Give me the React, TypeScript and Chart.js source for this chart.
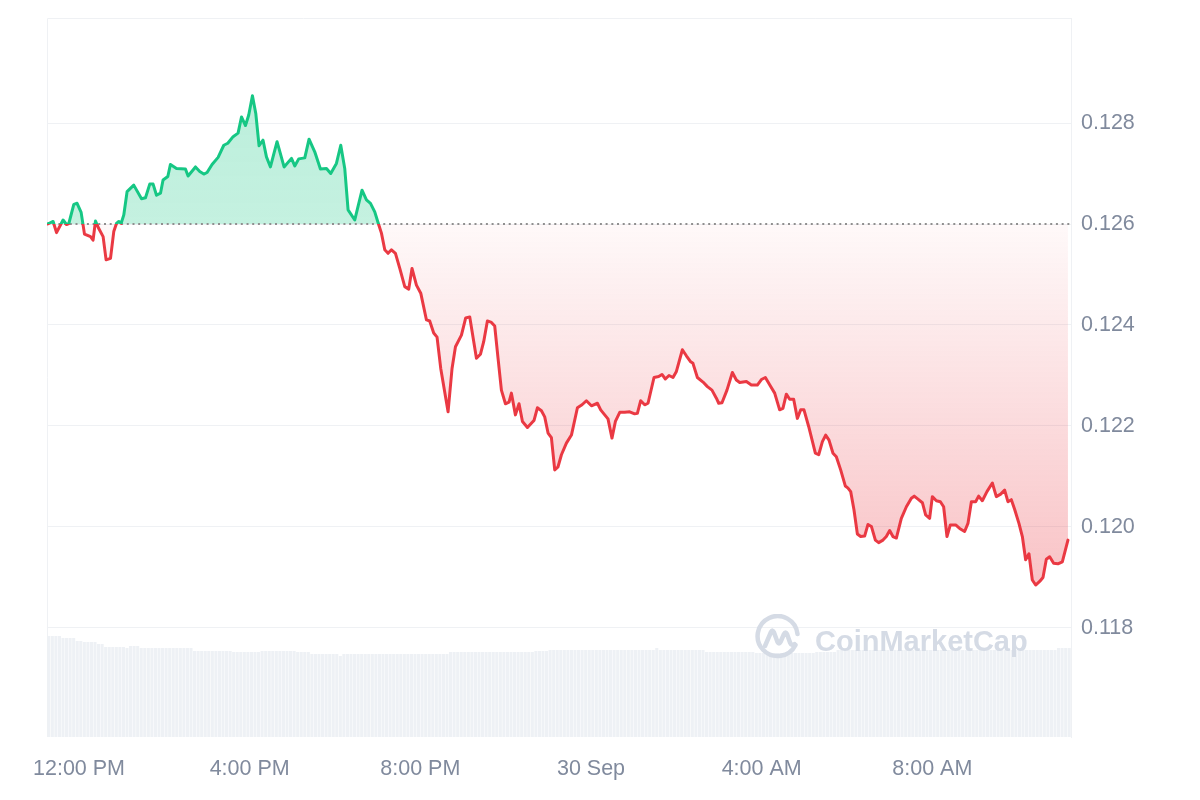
import React, { useEffect, useRef } from "react";
import { Chart, registerables } from "chart.js";

Chart.register(...registerables);

// ---------- data ----------
const OPEN_PRICE = 0.126;
const X_MIN = -45; // minutes relative to 12:00 PM
const X_MAX = 1395;
const Y_MIN = 0.11584;
const Y_MAX = 0.13008;

const xTickValues = [0, 240, 480, 720, 960, 1200];
const xTickLabels = ["12:00 PM", "4:00 PM", "8:00 PM", "30 Sep", "4:00 AM", "8:00 AM"];
const yTickValues = [0.118, 0.12, 0.122, 0.124, 0.126, 0.128];

// [minutes since 12:00 PM, price in USD]
const priceSeries: [number, number][] = [
  [-45, 0.126], [-42.5, 0.12601], [-36.4, 0.12605], [-31.6, 0.12583], [-22.4, 0.12608],
  [-17.6, 0.12599], [-14.3, 0.12601], [-7.3, 0.12639], [-2.7, 0.12641], [3.0, 0.12623],
  [7.7, 0.1258], [16.2, 0.12575], [19.8, 0.12568], [23.2, 0.12606], [27.8, 0.12591],
  [33.9, 0.12575], [38.1, 0.12529], [44.3, 0.12532], [48.9, 0.12585], [52.7, 0.12601],
  [56.0, 0.12605], [59.2, 0.12601], [63.0, 0.12618], [67.6, 0.12664], [77.0, 0.12677],
  [87.9, 0.1265], [93.5, 0.12652], [99.5, 0.12679], [104.2, 0.12679], [109.0, 0.12657],
  [114.6, 0.12661], [118.2, 0.12687], [124.9, 0.12694], [128.6, 0.12718], [137.1, 0.1271],
  [149.7, 0.12709], [153.4, 0.12695], [163.8, 0.12713], [169.8, 0.12704], [175.5, 0.12699],
  [180.1, 0.12702], [187.1, 0.12718], [195.6, 0.12732], [203.6, 0.12756], [209.2, 0.1276],
  [216.7, 0.12773], [223.7, 0.1278], [228.5, 0.12812], [234.1, 0.12795], [238.7, 0.12816],
  [243.9, 0.12854], [248.6, 0.12819], [253.2, 0.12755], [258.8, 0.12766], [263.6, 0.12733],
  [269.2, 0.12713], [278.5, 0.12763], [288.4, 0.12713], [298.8, 0.1273], [303.4, 0.12715],
  [309.0, 0.12729], [317.5, 0.12731], [323.5, 0.12768], [331.5, 0.12743], [339.5, 0.12709],
  [348.0, 0.1271], [354.0, 0.127], [362.0, 0.1272], [368.1, 0.12756], [373.7, 0.1271],
  [378.4, 0.12628], [387.8, 0.12608], [398.0, 0.12667], [404.2, 0.12648], [409.9, 0.12641],
  [415.9, 0.12624], [420.5, 0.12603], [425.3, 0.12582], [430.0, 0.12549], [434.6, 0.12542],
  [439.4, 0.12549], [445.0, 0.12542], [451.1, 0.12512], [458.1, 0.12476], [463.7, 0.12471],
  [468.3, 0.12512], [474.5, 0.12479], [480.6, 0.12463], [488.6, 0.1241], [493.2, 0.12408],
  [498.8, 0.12384], [503.5, 0.12376], [508.7, 0.12314], [519.0, 0.12228], [524.6, 0.12314],
  [529.4, 0.12357], [537.8, 0.1238], [543.8, 0.12414], [549.5, 0.12416], [558.9, 0.12334],
  [564.5, 0.12342], [569.1, 0.12367], [574.3, 0.12408], [580.0, 0.12405], [584.6, 0.12398],
  [589.3, 0.12334], [594.0, 0.12271], [599.7, 0.12244], [604.7, 0.12247], [608.1, 0.12265],
  [613.7, 0.12222], [618.8, 0.12244], [623.6, 0.12209], [630.6, 0.12197], [637.1, 0.12207],
  [639.9, 0.12211], [644.6, 0.12236], [650.3, 0.1223], [654.9, 0.12218], [659.6, 0.12186],
  [664.3, 0.12177], [669.0, 0.12113], [673.6, 0.12119], [678.4, 0.12143], [685.4, 0.12166],
  [692.5, 0.12182], [700.9, 0.12236], [707.4, 0.12242], [713.5, 0.1225], [720.6, 0.1224],
  [729.0, 0.12245], [733.6, 0.12232], [739.3, 0.12222], [743.9, 0.12214], [749.5, 0.12176],
  [754.3, 0.12209], [760.4, 0.12227], [767.4, 0.12227], [774.4, 0.12228], [781.4, 0.12224],
  [785.2, 0.12225], [789.9, 0.1225], [795.5, 0.12242], [800.2, 0.12245], [808.6, 0.12296],
  [815.2, 0.12298], [819.8, 0.12302], [824.6, 0.12293], [829.7, 0.123], [835.3, 0.12296],
  [840.1, 0.12308], [848.5, 0.12351], [854.1, 0.12339], [860.2, 0.12327], [863.4, 0.12324],
  [869.6, 0.12296], [877.5, 0.12287], [883.7, 0.12278], [890.1, 0.12271], [896.3, 0.12255],
  [899.6, 0.12245], [904.2, 0.12246], [911.2, 0.12271], [918.8, 0.12306], [924.4, 0.12291],
  [929.1, 0.12286], [938.5, 0.12288], [945.5, 0.12281], [953.9, 0.12281], [959.6, 0.12292],
  [965.2, 0.12296], [972.7, 0.12278], [978.3, 0.12265], [985.3, 0.12232], [989.9, 0.12235],
  [994.7, 0.12263], [999.4, 0.12253], [1005.0, 0.12253], [1010.2, 0.12215], [1014.9, 0.12232],
  [1019.5, 0.12232], [1026.1, 0.12199], [1035.5, 0.12146], [1040.2, 0.12143], [1045.4, 0.12169],
  [1050.0, 0.12182], [1054.7, 0.12172], [1060.3, 0.12146], [1065.0, 0.12139], [1071.1, 0.12113],
  [1077.7, 0.12081], [1081.4, 0.12077], [1085.2, 0.1207], [1089.8, 0.12034], [1094.6, 0.11986],
  [1099.2, 0.11981], [1104.8, 0.11982], [1109.5, 0.12005], [1114.3, 0.12001], [1119.9, 0.11974],
  [1124.5, 0.11969], [1130.6, 0.11974], [1135.3, 0.11981], [1140.0, 0.11993], [1144.6, 0.11981],
  [1149.4, 0.11978], [1156.4, 0.12017], [1163.5, 0.1204], [1170.5, 0.12057], [1174.5, 0.12061],
  [1179.8, 0.12055], [1186.0, 0.12048], [1190.6, 0.12024], [1196.2, 0.12017], [1200.0, 0.1206],
  [1205.7, 0.12052], [1211.3, 0.1205], [1215.9, 0.1204], [1220.6, 0.11981], [1225.3, 0.12004],
  [1232.8, 0.12004], [1238.4, 0.11997], [1245.4, 0.11991], [1250.1, 0.12007], [1254.9, 0.1205],
  [1260.9, 0.1205], [1265.1, 0.12061], [1270.3, 0.12052], [1276.8, 0.1207], [1284.4, 0.12087],
  [1290.0, 0.1206], [1296.1, 0.12065], [1301.7, 0.12073], [1306.3, 0.1205], [1311.1, 0.12054],
  [1315.7, 0.12035], [1321.8, 0.12007], [1326.6, 0.11981], [1331.2, 0.11935], [1335.9, 0.11947],
  [1340.6, 0.11895], [1345.3, 0.11885], [1350.9, 0.11892], [1355.6, 0.119], [1360.3, 0.11936],
  [1365.0, 0.11941], [1370.6, 0.11928], [1376.6, 0.11927], [1382.8, 0.11931], [1390.7, 0.11974],
];

// 5-minute volume bars (millions), first bar centred at VOLUME_FIRST_MINUTE
const VOLUME_FIRST_MINUTE = -42.5;
const VOLUME_STEP_MINUTES = 5;
const VOLUME_AXIS_MAX = 71.9;
const volumes = [
  10.1, 10.1, 10.1, 10.1, 9.9, 9.9, 9.9, 9.9, 9.6, 9.6,
  9.5, 9.5, 9.5, 9.5, 9.3, 9.3, 9.0, 9.0, 9.0, 9.0,
  9.0, 9.0, 8.9, 9.1, 9.1, 9.1, 8.9, 8.9, 8.9, 8.9,
  8.9, 8.9, 8.9, 8.9, 8.9, 8.9, 8.9, 8.9, 8.9, 8.9,
  8.9, 8.6, 8.6, 8.6, 8.6, 8.6, 8.6, 8.6, 8.6, 8.6,
  8.6, 8.6, 8.5, 8.5, 8.5, 8.5, 8.5, 8.5, 8.5, 8.5,
  8.6, 8.6, 8.6, 8.6, 8.6, 8.6, 8.6, 8.6, 8.6, 8.6,
  8.5, 8.5, 8.5, 8.5, 8.3, 8.3, 8.3, 8.3, 8.3, 8.3,
  8.3, 8.3, 8.1, 8.3, 8.3, 8.3, 8.3, 8.3, 8.3, 8.3,
  8.3, 8.3, 8.3, 8.3, 8.3, 8.3, 8.3, 8.3, 8.3, 8.3,
  8.3, 8.3, 8.3, 8.3, 8.3, 8.3, 8.3, 8.3, 8.3, 8.3,
  8.3, 8.3, 8.3, 8.5, 8.5, 8.5, 8.5, 8.5, 8.5, 8.5,
  8.5, 8.5, 8.5, 8.5, 8.5, 8.5, 8.5, 8.5, 8.5, 8.5,
  8.5, 8.5, 8.5, 8.5, 8.5, 8.5, 8.5, 8.6, 8.6, 8.6,
  8.6, 8.7, 8.7, 8.7, 8.7, 8.7, 8.7, 8.7, 8.7, 8.7,
  8.7, 8.7, 8.7, 8.7, 8.7, 8.7, 8.7, 8.7, 8.7, 8.7,
  8.7, 8.7, 8.7, 8.7, 8.7, 8.7, 8.7, 8.7, 8.7, 8.7,
  8.7, 8.9, 8.7, 8.7, 8.7, 8.7, 8.7, 8.7, 8.7, 8.7,
  8.7, 8.7, 8.7, 8.7, 8.7, 8.5, 8.5, 8.5, 8.5, 8.5,
  8.5, 8.5, 8.5, 8.5, 8.5, 8.5, 8.5, 8.5, 8.5, 8.4,
  8.4, 8.4, 8.4, 8.4, 8.4, 8.4, 8.4, 8.4, 8.4, 8.4,
  8.4, 8.4, 8.4, 8.4, 8.4, 8.4, 8.5, 8.5, 8.5, 8.5,
  8.5, 8.5, 8.7, 8.7, 8.7, 8.7, 8.7, 8.7, 8.7, 8.7,
  8.7, 8.7, 8.7, 8.7, 8.7, 8.7, 8.7, 8.7, 8.7, 8.7,
  8.7, 8.7, 8.7, 8.7, 8.7, 8.7, 8.7, 8.7, 8.7, 8.7,
  8.7, 8.7, 8.7, 8.7, 8.7, 8.7, 8.7, 8.7, 8.7, 8.7,
  8.7, 8.7, 8.7, 8.7, 8.7, 8.7, 8.7, 8.7, 8.7, 8.7,
  8.7, 8.7, 8.7, 8.7, 8.7, 8.7, 8.7, 8.7, 8.7, 8.7,
  8.7, 8.7, 8.7, 8.7, 8.9, 8.9, 8.9, 8.9,
];

// ---------- styles ----------
const GREEN = "#16c784";
const RED = "#ea3943";
const GRID = "#eff1f4";
const LABEL = "#808a9d";
const VOLUME_COLOR = "#eef1f5";
const WATERMARK = "#d5dbe5";
const FONT_FAMILY = "'Liberation Sans', Arial, Helvetica, sans-serif";

function baselinePixel(chart: any): number | null {
  const { chartArea, scales } = chart;
  if (!chartArea || !scales || !scales.y) return null;
  return scales.y.getPixelForValue(OPEN_PRICE);
}

function strokeColor(context: any) {
  const chart = context.chart;
  const yb = baselinePixel(chart);
  if (yb === null) return RED;
  const { ctx, chartArea } = chart;
  const h = chartArea.bottom - chartArea.top;
  const stop = Math.min(1, Math.max(0, (yb - chartArea.top) / h));
  const g = ctx.createLinearGradient(0, chartArea.top, 0, chartArea.bottom);
  g.addColorStop(0, GREEN);
  g.addColorStop(stop, GREEN);
  g.addColorStop(stop, RED);
  g.addColorStop(1, RED);
  return g;
}

function aboveFill(context: any) {
  const chart = context.chart;
  const yb = baselinePixel(chart);
  if (yb === null) return "rgba(22,199,132,0.28)";
  const { ctx, chartArea } = chart;
  const g = ctx.createLinearGradient(0, chartArea.top, 0, yb);
  g.addColorStop(0, "rgba(22,199,132,0.31)");
  g.addColorStop(1, "rgba(22,199,132,0.25)");
  return g;
}

function belowFill(context: any) {
  const chart = context.chart;
  const yb = baselinePixel(chart);
  if (yb === null) return "rgba(234,57,67,0.1)";
  const { ctx, chartArea } = chart;
  const g = ctx.createLinearGradient(0, yb, 0, chartArea.bottom);
  g.addColorStop(0, "rgba(234,57,67,0.03)");
  g.addColorStop(1, "rgba(234,57,67,0.42)");
  return g;
}

const framePlugin = {
  id: "frame",
  beforeDatasetsDraw(chart: any) {
    const { ctx, chartArea: a } = chart;
    ctx.save();
    ctx.strokeStyle = GRID;
    ctx.lineWidth = 1;
    ctx.beginPath();
    ctx.moveTo(a.left + 0.5, a.bottom);
    ctx.lineTo(a.left + 0.5, a.top + 0.5);
    ctx.lineTo(a.right, a.top + 0.5);
    ctx.stroke();
    ctx.restore();
  },
};

export default function App() {
  const canvasRef = useRef<HTMLCanvasElement | null>(null);

  useEffect(() => {
    if (!canvasRef.current) return;
    const priceData = priceSeries.map(([t, p]) => ({ x: t, y: p }));
    const volumeData = volumes.map((v, i) => ({ x: VOLUME_FIRST_MINUTE + i * VOLUME_STEP_MINUTES, y: v }));
    const baselineData = [
      { x: X_MIN, y: OPEN_PRICE },
      { x: X_MAX, y: OPEN_PRICE },
    ];
    const tickFont = { family: FONT_FAMILY, size: 21.5 };

    const chart = new Chart(canvasRef.current, {
      type: "line",
      data: {
        datasets: [
          {
            type: "line",
            label: "Price",
            data: priceData,
            xAxisID: "x",
            yAxisID: "y",
            borderColor: strokeColor as any,
            borderWidth: 3,
            borderJoinStyle: "round",
            borderCapStyle: "round",
            pointRadius: 0,
            tension: 0,
            fill: { target: { value: OPEN_PRICE }, above: aboveFill as any, below: belowFill as any } as any,
            order: 0,
          },
          {
            type: "line",
            label: "Open",
            data: baselineData,
            xAxisID: "x",
            yAxisID: "y",
            borderColor: "#8f8f8f",
            borderWidth: 2,
            borderDash: [2, 3.7],
            pointRadius: 0,
            fill: false,
            order: 1,
          },
          {
            type: "bar",
            label: "Volume",
            data: volumeData as any,
            xAxisID: "x",
            yAxisID: "yv",
            backgroundColor: VOLUME_COLOR,
            borderWidth: 0,
            categoryPercentage: 1,
            barPercentage: 0.86,
            order: 2,
          } as any,
        ],
      },
      options: {
        responsive: false,
        animation: false,
        layout: { padding: { left: 47, top: 18, right: 0, bottom: 0 } },
        plugins: {
          legend: { display: false },
          tooltip: { enabled: false },
          filler: { drawTime: "beforeDatasetsDraw" } as any,
        },
        scales: {
          x: {
            type: "linear",
            min: X_MIN,
            max: X_MAX,
            offset: false,
            grid: { display: false, drawTicks: false },
            border: { display: false },
            afterBuildTicks: (s: any) => {
              s.ticks = xTickValues.map((v) => ({ value: v }));
            },
            afterFit: (s: any) => {
              s.height = 63;
              s.paddingLeft = 0;
              s.paddingRight = 0;
            },
            ticks: {
              autoSkip: false,
              maxRotation: 0,
              minRotation: 0,
              padding: 19,
              color: LABEL,
              font: tickFont,
              callback: (_v: any, i: number) => xTickLabels[i],
            },
          },
          y: {
            type: "linear",
            position: "right",
            min: Y_MIN,
            max: Y_MAX,
            grid: { color: GRID, drawTicks: false },
            border: { display: true, color: GRID },
            afterBuildTicks: (s: any) => {
              s.ticks = yTickValues.map((v) => ({ value: v }));
            },
            afterFit: (s: any) => {
              s.width = 129;
              s.paddingTop = 0;
              s.paddingBottom = 0;
            },
            ticks: {
              padding: 10,
              color: LABEL,
              font: tickFont,
              callback: (v: any) => Number(v).toFixed(3),
            },
          },
          yv: {
            type: "linear",
            display: false,
            min: 0,
            max: VOLUME_AXIS_MAX,
          },
        },
      } as any,
      plugins: [framePlugin],
    });
    return () => chart.destroy();
  }, []);

  return (
    <div style={{ position: "absolute", left: 0, top: 0, width: 1200, height: 800, background: "#fff" }}>
      <canvas ref={canvasRef} width={1200} height={800} style={{ display: "block", width: 1200, height: 800 }} />
      <svg
        width="48"
        height="50"
        viewBox="0 0 48 50"
        style={{ position: "absolute", left: 754, top: 614, pointerEvents: "none" }}
      >
        <path
          d="M41.5 31 A20 20 0 1 1 43.5 20"
          fill="none"
          stroke={WATERMARK}
          strokeWidth="4.5"
          strokeLinecap="round"
        />
        <path
          d="M11 32 L17 18 Q18.5 15 20 18.5 L23.5 28 Q25 31 26.5 28 L30 20 Q31.5 17 33 20 L36 28.5 Q37.5 32 40.5 30"
          fill="none"
          stroke={WATERMARK}
          strokeWidth="4.5"
          strokeLinecap="round"
          strokeLinejoin="round"
        />
      </svg>
      <span
        style={{
          position: "absolute",
          left: 815,
          top: 625,
          font: `bold 29px ${FONT_FAMILY}`,
          lineHeight: "32px",
          color: WATERMARK,
          whiteSpace: "nowrap",
          pointerEvents: "none",
        }}
      >
        CoinMarketCap
      </span>
    </div>
  );
}
